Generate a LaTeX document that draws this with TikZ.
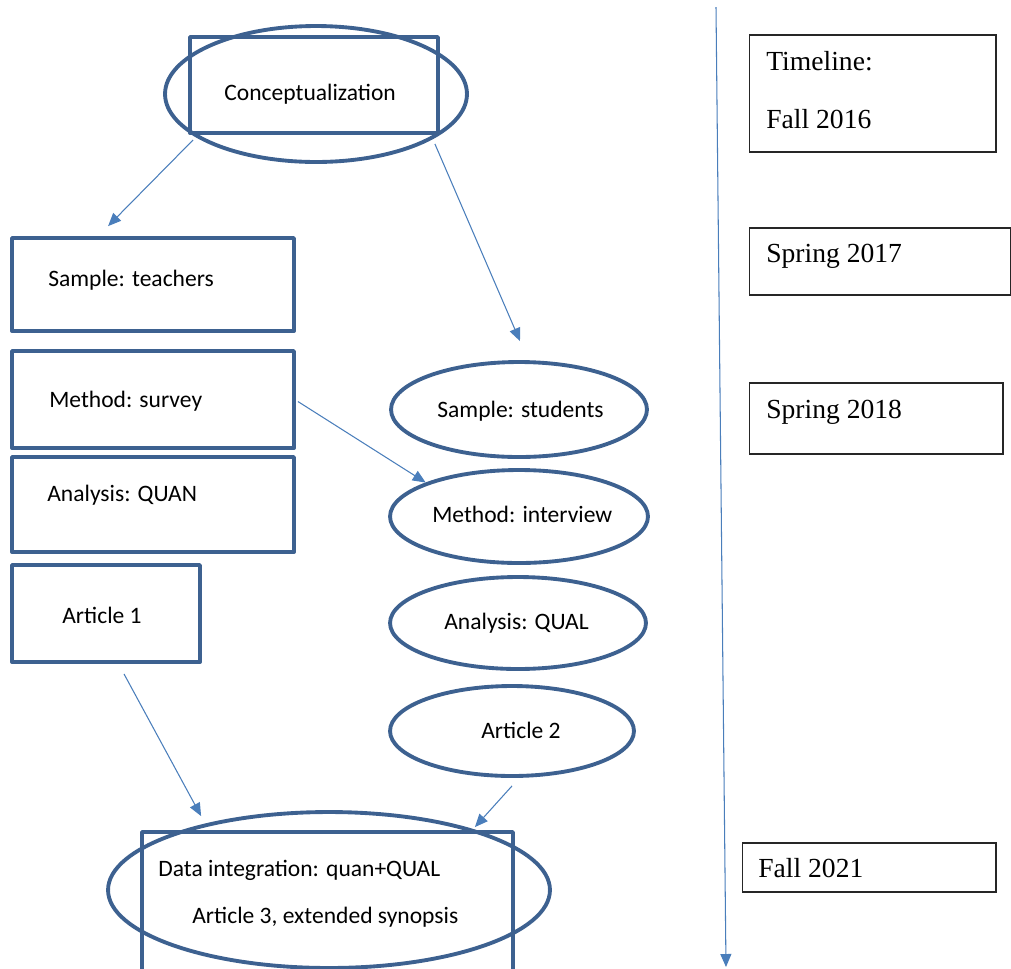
\documentclass[tikz,border=0pt]{standalone}
\usepackage{fontspec}
\setmainfont{Carlito}
\newfontfamily\timesfont{Liberation Serif}
\usepackage{xcolor}
\usepackage{tikz}
\usetikzlibrary{arrows.meta,shapes.geometric}
\definecolor{boxblue}{HTML}{3D6190}
\definecolor{arrblue}{HTML}{4A7EBB}

\begin{document}
\begin{tikzpicture}[x=0.02cm,y=-0.02cm,>={Triangle[length=0.26cm,width=0.22cm]},
  box/.style={draw=boxblue,line width=2.2pt,line join=round,rectangle,inner sep=0pt},
  oval/.style={draw=boxblue,line width=2.2pt,ellipse,inner sep=0pt},
  lbl/.style={anchor=base west,inner sep=0pt,font=\fontsize{13.4}{16}\selectfont},
  tbox/.style={draw=black!85,line width=0.6pt,rectangle,inner sep=0pt},
  tlbl/.style={anchor=base west,inner sep=0pt,font=\timesfont\fontsize{15.7}{19}\selectfont},
  arr/.style={->,draw=arrblue,line width=0.6pt}]
\useasboundingbox (0,0) rectangle (1011,968);
\clip (0,0) rectangle (1011,968);
% top
\node[oval,minimum width=6.04cm,minimum height=2.72cm] (conE) at (316,94) {};
\node[box,minimum width=4.96cm,minimum height=1.92cm] (conR) at (314,85) {};
\node[lbl] (conT) at (224,100) {Conceptualization};
% teachers
\node[box,minimum width=5.64cm,minimum height=1.86cm] (teach) at (153,284.5) {};
\node[box,minimum width=5.64cm,minimum height=1.94cm] (survey) at (153,399.5) {};
\node[box,minimum width=5.64cm,minimum height=1.9cm] (quan) at (153,504.5) {};
\node[box,minimum width=3.76cm,minimum height=1.94cm] (art1) at (106,613.5) {};
\node[lbl] (teachT) at (48,286) {Sample: teachers};
\node[lbl] (surveyT) at (49,407) {Method: survey};
\node[lbl] (quanT) at (47,501) {Analysis: QUAN};
\node[lbl] (art1T) at (62,623) {Article 1};
% students
\node[oval,minimum width=5.12cm,minimum height=1.9cm] (stud) at (519,409.5) {};
\node[oval,minimum width=5.16cm,minimum height=1.86cm] (intv) at (519,516.5) {};
\node[oval,minimum width=5.12cm,minimum height=1.84cm] (qual) at (518,623) {};
\node[oval,minimum width=4.88cm,minimum height=1.8cm] (art2) at (512,731) {};
\node[lbl] (studT) at (437,417) {Sample: students};
\node[lbl] (intvT) at (432,522) {Method: interview};
\node[lbl] (qualT) at (444,629) {Analysis: QUAL};
\node[lbl] (art2T) at (481,738) {Article 2};
% integration
\node[oval,minimum width=8.84cm,minimum height=3.12cm] (finE) at (329,890) {};
\node[box,minimum width=7.42cm,minimum height=2.86cm] (finR) at (327.5,903.5) {};
\node[lbl] (finT1) at (158,876) {Data integration: quan+QUAL};
\node[lbl] (finT2) at (192,923) {Article 3, extended synopsis};
% timeline
\coordinate (tlTop) at (716,7);
\coordinate (tlBot) at (726,967);
\node[tbox,minimum width=4.94cm,minimum height=2.34cm] (tl1) at (872.5,93.5) {};
\node[tbox,minimum width=5.24cm,minimum height=1.34cm] (tl2) at (880,261.5) {};
\node[tbox,minimum width=5.08cm,minimum height=1.42cm] (tl3) at (876,418.5) {};
\node[tbox,minimum width=5.08cm,minimum height=0.98cm] (tl4) at (869,867.5) {};
\node[tlbl] (tl1a) at (766,70) {Timeline:};
\node[tlbl] (tl1b) at (766,128) {Fall 2016};
\node[tlbl] (tl2T) at (766,262) {Spring 2017};
\node[tlbl] (tl3T) at (766,418) {Spring 2018};
\node[tlbl] (tl4T) at (758,877) {Fall 2021};
% arrows
\draw[arr] ([shift={(5,5)}]conR.south west) -- ([shift={(98,-10)}]teach.north west);
\draw[arr] ([shift={(-5,9)}]conR.south east) -- ([shift={(1,-19)}]stud.north);
\draw[arr] ([shift={(2,2)}]survey.east) -- (intv.160);
\draw[arr] ([shift={(18,10)}]art1.south) -- ([shift={(61,-14)}]finR.north west);
\draw[arr] ([shift={(0,8)}]art2.south) -- ([shift={(-40,-3)}]finR.north east);
\draw[arr] (tlTop) -- (tlBot);
\end{tikzpicture}
\end{document}
